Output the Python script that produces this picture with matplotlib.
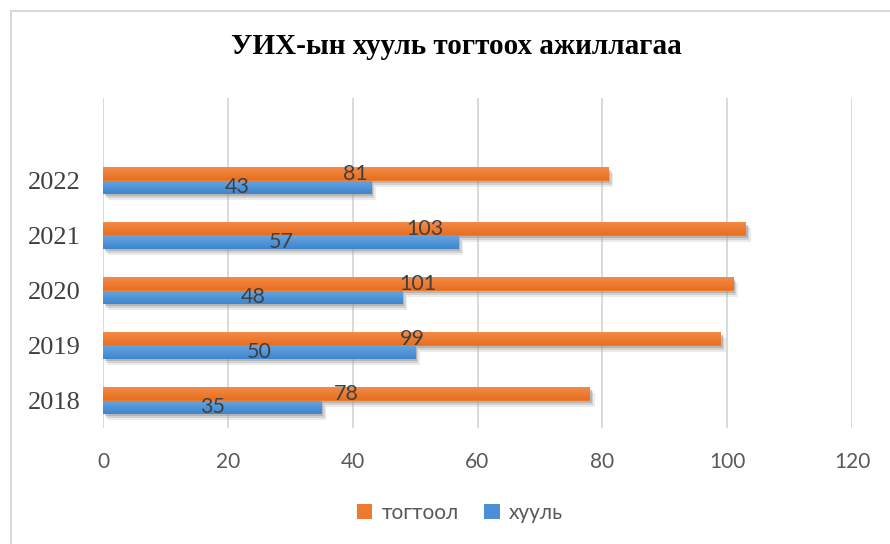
import numpy as np
import matplotlib
matplotlib.use("Agg")
import matplotlib.pyplot as plt
import matplotlib.patheffects as pe
from matplotlib.colors import LinearSegmentedColormap
from matplotlib.lines import Line2D
from matplotlib.patches import Patch

years = ["2018", "2019", "2020", "2021", "2022"]
togtool = [78, 99, 101, 103, 81]
khuul = [35, 50, 48, 57, 43]

title = "УИХ-ын хууль тогтоох ажиллагаа"
orange = "#EE7A2C"
blue = "#4A90D6"

W, H = 890, 544
fig = plt.figure(figsize=(W / 100, H / 100), dpi=100)
fig.patch.set_facecolor("white")

ax = fig.add_axes([103 / W, 116 / H, 749 / W, 330 / H])

y = np.arange(len(years))
h = 0.245

shadow = [pe.SimplePatchShadow(offset=(3.4, -4.4), shadow_rgbFace="#b0b0b0", alpha=0.25),
          pe.SimplePatchShadow(offset=(2.2, -3.0), shadow_rgbFace="#9a9a9a", alpha=0.3),
          pe.SimplePatchShadow(offset=(1.2, -1.8), shadow_rgbFace="#808080", alpha=0.35),
          pe.Normal()]

b_or = ax.barh(y + h / 2, togtool, height=h, color=orange, zorder=2, path_effects=shadow)
b_bl = ax.barh(y - h / 2, khuul, height=h, color=blue, zorder=3, path_effects=shadow)

# vertical gradient on every bar
grads = {
    2: LinearSegmentedColormap.from_list("o", ["#E96F1E", "#F28C4C"]),
    3: LinearSegmentedColormap.from_list("b", ["#3F86CE", "#67A5E0"]),
}
g = np.linspace(0, 1, 32).reshape(-1, 1)
for bars, z in ((b_or, 2), (b_bl, 3)):
    for r in bars:
        x0, y0 = r.get_x(), r.get_y()
        im = ax.imshow(g, extent=[x0, x0 + r.get_width(), y0, y0 + r.get_height()],
                       origin="lower", cmap=grads[z], aspect="auto", zorder=z + 0.1,
                       interpolation="bilinear")
        im.set_clip_path(r)

lbl = dict(label_type="center", fontsize=15.5, color="#404040", family="Lato")
for bars, z in ((b_or, 4), (b_bl, 5)):
    for t in ax.bar_label(bars, **lbl):
        t.set_zorder(z)

ax.set_xlim(0, 120)
ax.set_ylim(-0.5, len(years) + 0.5)
ax.set_xticks(np.arange(0, 121, 20))
ax.set_yticks(y)
ax.set_yticklabels(years, family="Liberation Serif", fontsize=19, color="#404040")
ax.tick_params(axis="x", length=0, pad=17, labelsize=15, labelcolor="#595959")
ax.tick_params(axis="y", length=0, pad=16)
for lab in ax.get_xticklabels():
    lab.set_family("Lato")
ax.xaxis.grid(True, color="#D9D9D9", lw=1.4)
ax.set_axisbelow(True)
for s in ax.spines.values():
    s.set_visible(False)

fig.text(456 / W, 1 - 46 / H, title, ha="center", va="center",
         family="Liberation Serif", fontweight="bold", fontsize=21, color="black")

handles = [Patch(facecolor=orange, label="тогтоол"), Patch(facecolor=blue, label="хууль")]
fig.legend(handles=handles, loc="center", bbox_to_anchor=(460 / W, 1 - 513 / H), ncol=2,
           frameon=False, prop={"family": "Lato", "size": 15}, labelcolor="#595959",
           handlelength=0.75, handleheight=0.75, handletextpad=0.45, columnspacing=1.2)

fig.add_artist(Line2D([10.5 / W, 10.5 / W], [0, 1 - 11 / H], color="#D9D9D9", lw=1.5))
fig.add_artist(Line2D([10.5 / W, 1], [1 - 11 / H, 1 - 11 / H], color="#D9D9D9", lw=1.5))

fig.savefig("out.png", dpi=100)
